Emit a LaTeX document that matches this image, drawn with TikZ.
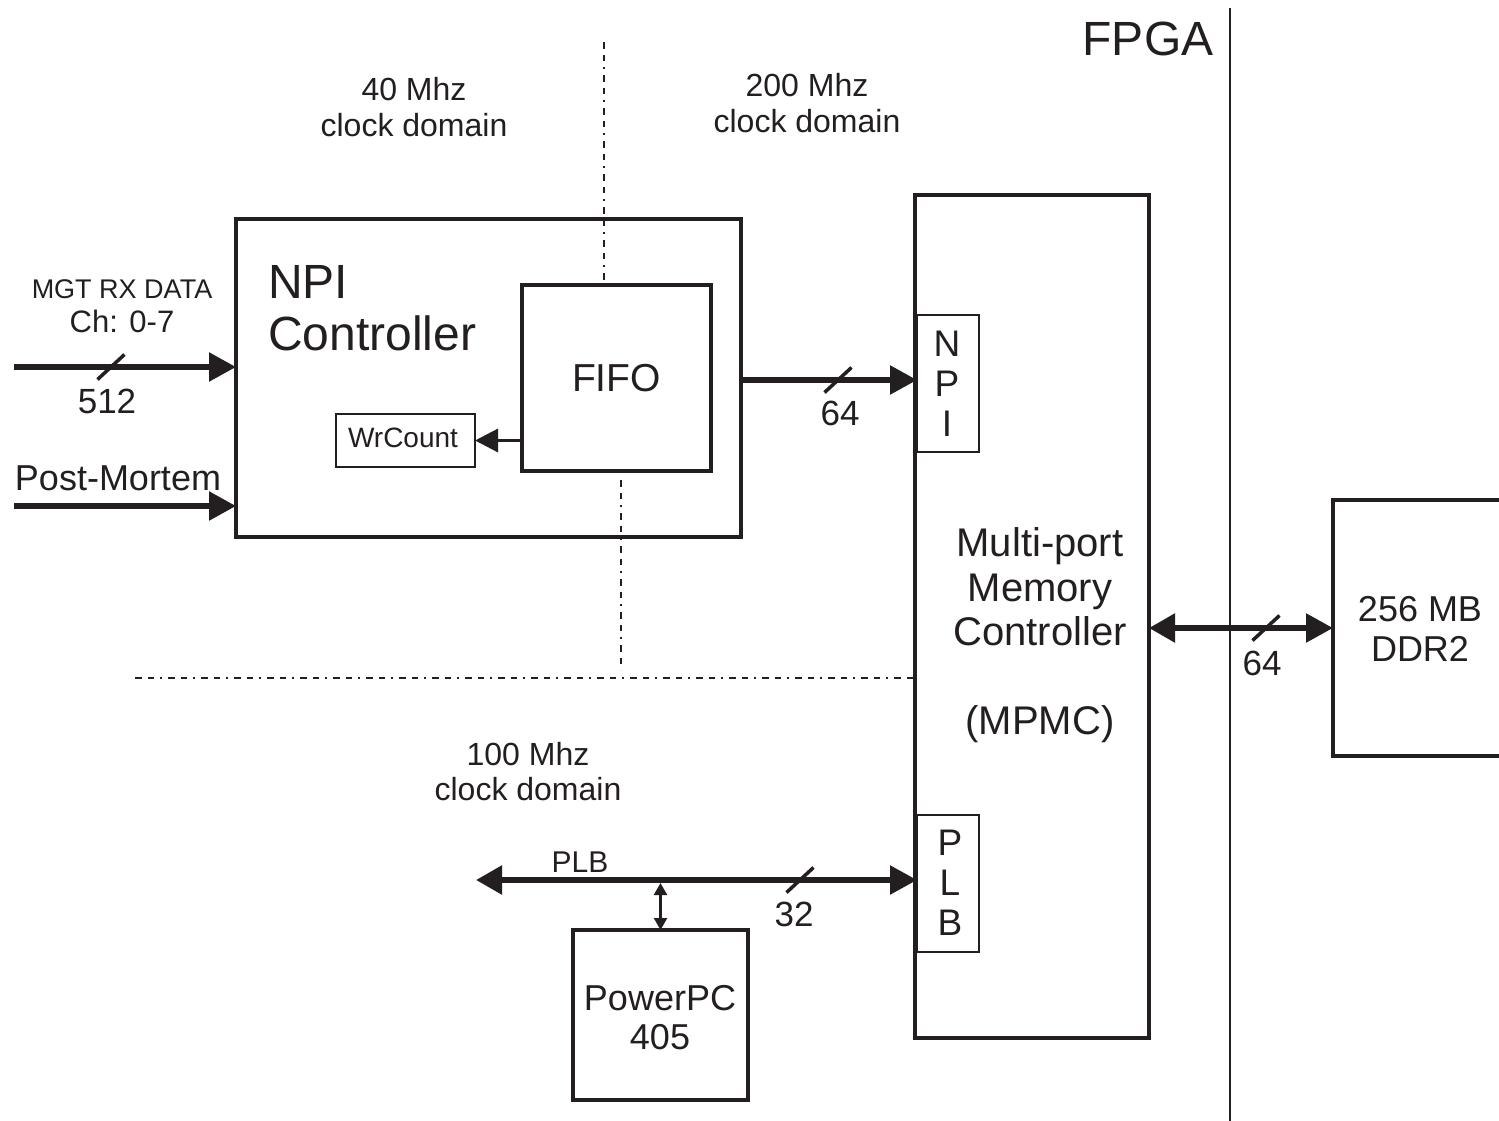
\documentclass[tikz,border=0pt]{standalone}
\usepackage{fontspec}
\setmainfont{Liberation Sans}
\usetikzlibrary{arrows.meta,calc}
\definecolor{ink}{HTML}{231F20}
\begin{document}
\begin{tikzpicture}[x=1pt,y=-1pt,
  every node/.style={inner sep=0pt, outer sep=0pt, text=ink},
  blockbox/.style={draw=ink, line width=4.5pt},
  portbox/.style={draw=ink, line width=2.5pt},
  smallbox/.style={draw=ink, line width=2pt},
  bus/.style={draw=ink, line width=5.5pt, -{Triangle[length=27pt,width=28pt]}},
  dbus/.style={draw=ink, line width=5.5pt, {Triangle[length=26pt,width=28pt]}-{Triangle[length=27pt,width=28pt]}},
  thinarrow/.style={draw=ink, line width=3.2pt, -{Triangle[length=23pt,width=23pt]}},
  vdarrow/.style={draw=ink, line width=2.3pt, {Triangle[length=12pt,width=13pt]}-{Triangle[length=12pt,width=13pt]}},
  slashmark/.style={draw=ink, line width=3.5pt},
  domline/.style={draw=ink, line width=2.5pt, dash pattern=on 6.5pt off 6pt on 6.5pt off 6pt on 2pt off 6pt},
  fpgaline/.style={draw=ink, line width=1.3pt},
  lbl/.style={align=center},
]
\useasboundingbox (0,0) rectangle (1499,1120);
\fill[white] (0,0) rectangle (1499,1120);
\clip (0,0) rectangle (1499,1120);

% blocks
\node[blockbox, minimum width=505pt, minimum height=318pt] (npi) at (488.5,378) {};
\node[blockbox, minimum width=189pt, minimum height=186pt, font=\fontsize{39}{44}\selectfont] (fifo) at (616.5,378) {FIFO};
\node[smallbox, minimum width=139pt, minimum height=53pt] (wrc) at (405.5,440.5) {};
\node[anchor=base, font=\fontsize{28}{32}\selectfont] (wrct) at (403,447) {WrCount};
\node[blockbox, minimum width=234pt, minimum height=843pt] (mpmc) at (1032,616.5) {};
\node[portbox, minimum width=62pt, minimum height=137pt] (npiport) at (948,383.5) {};
\node[portbox, minimum width=62pt, minimum height=137pt] (plbport) at (948,883.5) {};
\node[blockbox, minimum width=180pt, minimum height=256pt] (ddr) at (1423,628) {};
\node[blockbox, minimum width=175pt, minimum height=170pt] (ppc) at (660.5,1015) {};

% texts
\node[anchor=north west, align=left, font=\fontsize{48}{52}\selectfont] (npit) at (268,265) {NPI\\Controller};
\node[anchor=north, lbl, font=\fontsize{37}{40}\selectfont] (npipt) at (947,331) {N\\P\\I};
\node[anchor=north, lbl, font=\fontsize{37}{40}\selectfont] (plbpt) at (950,830) {P\\L\\B};
\node[anchor=north, lbl, font=\fontsize{40}{44.5}\selectfont] (mpmct) at (1040,528) {Multi-port\\Memory\\Controller\\[44.5pt](MPMC)};
\node[anchor=north, lbl, font=\fontsize{36}{40}\selectfont] (ddrt) at (1420,596) {256 MB\\DDR2};
\node[anchor=north, lbl, font=\fontsize{36}{39}\selectfont] (ppct) at (660,985) {PowerPC\\405};
\node[anchor=base, font=\fontsize{48}{52}\selectfont] (fpgat) at (1148,55) {FPGA};
\node[anchor=north, lbl, font=\fontsize{32}{36}\selectfont] (d40) at (414,77) {40 Mhz\\clock domain};
\node[anchor=north, lbl, font=\fontsize{32}{36}\selectfont] (d200) at (807,73) {200 Mhz\\clock domain};
\node[anchor=north, lbl, font=\fontsize{32}{35}\selectfont] (d100) at (528,742) {100 Mhz\\clock domain};
\node[anchor=base, lbl, font=\fontsize{27}{34}\selectfont] (mgtt) at (122,332) {MGT RX DATA\\{\fontsize{31}{34}\selectfont Ch: 0-7}};
\node[anchor=base, font=\fontsize{36}{40}\selectfont] (pmt) at (118,490) {Post-Mortem};
\node[anchor=base, font=\fontsize{35}{40}\selectfont] (w512) at (107,413) {512};
\node[anchor=base, font=\fontsize{35}{40}\selectfont] (w64a) at (840,425) {64};
\node[anchor=base, font=\fontsize{35}{40}\selectfont] (w64b) at (1262,675) {64};
\node[anchor=base, font=\fontsize{35}{40}\selectfont] (w32) at (794,926) {32};
\node[anchor=base, font=\fontsize{30}{34}\selectfont] (plbt) at (580,872) {PLB};

% clock domain boundaries
\coordinate (v1top) at (604,42);
\coordinate (v2top) at (621,480);
\coordinate (hleft) at (135,678);
\draw[domline] (v1top) -- (v1top |- fifo.north);
\draw[domline] (v2top) -- (621,670);
\draw[domline] (hleft) -- (hleft -| mpmc.west);

% FPGA boundary
\coordinate (fpgatop) at (1230,8);
\draw[fpgaline] (fpgatop) -- (1230,1125);

% connectors
\coordinate (mgtin) at (14,367);
\coordinate (pmin) at (14,506);
\coordinate (plbleft) at (476,880);
\draw[bus] (mgtin) -- (mgtin -| npi.west);
\draw[bus] (pmin) -- (pmin -| npi.west);
\draw[thinarrow] (fifo.west |- wrc.east) -- (wrc.east);
\draw[bus] (npi.east |- 0,380) -- (npiport.west |- 0,380);
\draw[dbus] (mpmc.east |- ddr.west) -- (ddr.west);
\draw[dbus] (plbleft) -- (plbleft -| plbport.west);
\draw[vdarrow] (ppc.north |- 0,883) -- (ppc.north);

% bus width slashes
\coordinate (s512) at (111,367);
\coordinate (s64a) at (838,380);
\coordinate (s64b) at (1266,628);
\coordinate (s32) at (800,880);
\foreach \c in {s512,s64a,s64b,s32}
  \draw[slashmark] ($(\c)+(-13.5,12.5)$) -- ($(\c)+(13.5,-12.5)$);
\end{tikzpicture}
\end{document}
